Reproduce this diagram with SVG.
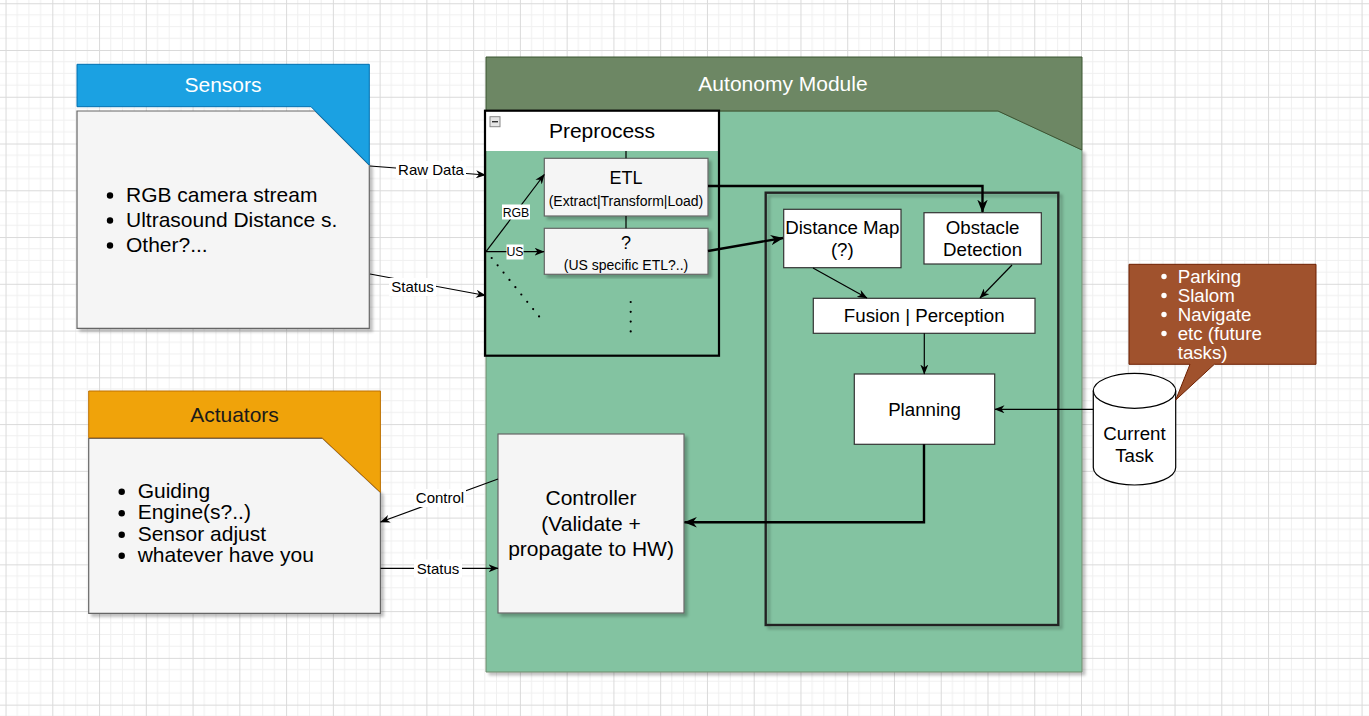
<svg xmlns="http://www.w3.org/2000/svg" width="1369" height="716" viewBox="0 0 1369 716">
<style>
text{font-family:"Liberation Sans",Arial,sans-serif;}
.c{text-anchor:middle;}
.box{fill:#ffffff;stroke:#333333;stroke-width:1.2;}
.gbox{fill:#f5f5f5;stroke:#666666;stroke-width:1.2;}
.ln{fill:none;stroke:#000;stroke-width:1.2;}
.lnt{fill:none;stroke:#000;stroke-width:2.4;}
.lbl{font-size:15px;fill:#000;}
.lbg{fill:#ffffff;}
.t19{font-size:18.7px;fill:#000;}
.t21{font-size:21px;fill:#000;}
.dot{fill:#000;}
</style>
<defs>
<pattern id="grid" x="5.54" y="3.24" width="46.76" height="46.76" patternUnits="userSpaceOnUse">
<path d="M11.69,0V46.76M23.38,0V46.76M35.07,0V46.76M0,11.69H46.76M0,23.38H46.76M0,35.07H46.76" stroke="#f0f0f0" stroke-width="1" fill="none"/>
<path d="M0.5,0V46.76M0,0.5H46.76" stroke="#dadada" stroke-width="1" fill="none"/>
</pattern>
<filter id="sh" x="-5%" y="-5%" width="115%" height="115%">
<feGaussianBlur in="SourceAlpha" stdDeviation="1.5"/>
<feOffset dx="2.5" dy="2.5" result="b"/>
<feComponentTransfer><feFuncA type="linear" slope="0.25"/></feComponentTransfer>
<feMerge><feMergeNode/><feMergeNode in="SourceGraphic"/></feMerge>
</filter>
<marker id="arr" viewBox="0 0 10 8" refX="9.5" refY="4" markerWidth="10" markerHeight="8" orient="auto" markerUnits="userSpaceOnUse">
<path d="M0,0 L10,4 L0,8 L3,4 Z" fill="#000"/>
</marker>
<marker id="arrT" viewBox="0 0 10 8" refX="9.5" refY="4" markerWidth="13" markerHeight="10.4" orient="auto" markerUnits="userSpaceOnUse">
<path d="M0,0 L10,4 L0,8 L3,4 Z" fill="#000"/>
</marker>
</defs>
<rect x="0" y="0" width="1369" height="716" fill="#ffffff"/>
<rect x="0" y="0" width="1369" height="716" fill="url(#grid)"/>

<g id="sensors">
<polygon points="77,111 315.3,111 369.3,165 369.3,328.3 77,328.3" fill="#f5f5f5" stroke="#666666" stroke-width="1.2" filter="url(#sh)"/>
<polygon points="77,64.3 369.3,64.3 369.3,165 311,106.7 77,106.7" fill="#1ba1e2" stroke="#006eaf" stroke-width="1"/>
<text x="223" y="92.3" class="c" style="font-size:21px;fill:#ffffff">Sensors</text>
<circle cx="110" cy="195.5" r="3.2" class="dot"/>
<circle cx="110" cy="220.5" r="3.2" class="dot"/>
<circle cx="110" cy="245.5" r="3.2" class="dot"/>
<text x="126" y="201.7" class="t21">RGB camera stream</text>
<text x="126" y="226.7" class="t21">Ultrasound Distance s.</text>
<text x="126" y="251.7" class="t21">Other?...</text>
</g>

<g id="actuators">
<polygon points="88.7,438.3 322.6,438.3 380.4,492.3 380.4,613.3 88.7,613.3" fill="#f5f5f5" stroke="#666666" stroke-width="1.2" filter="url(#sh)"/>
<polygon points="88.7,391 380.4,391 380.4,492.3 322,437.7 88.7,437.7" fill="#f0a30a" stroke="#bd7000" stroke-width="1"/>
<text x="234.5" y="422.3" class="c" style="font-size:21px;fill:#1a1a1a">Actuators</text>
<circle cx="121.7" cy="491.7" r="3.2" class="dot"/>
<circle cx="121.7" cy="513.3" r="3.2" class="dot"/>
<circle cx="121.7" cy="534.7" r="3.2" class="dot"/>
<circle cx="121.7" cy="555.7" r="3.2" class="dot"/>
<text x="137.7" y="497.7" class="t21">Guiding</text>
<text x="137.7" y="519.3" class="t21">Engine(s?..)</text>
<text x="137.7" y="540.7" class="t21">Sensor adjust</text>
<text x="137.7" y="561.7" class="t21">whatever have you</text>
</g>

<g id="autonomy-module">
<polygon points="486,111 998,111 1082,150 1082,672 486,672" fill="#83c3a1" stroke="#6f8a6c" stroke-width="1" filter="url(#sh)"/>
<polygon points="486,57 1082,57 1082,150 998,111 486,111" fill="#6d8764" stroke="#3a5431" stroke-width="1"/>
<text x="783" y="91" class="c" style="font-size:21px;fill:#ffffff">Autonomy Module</text>
</g>

<g id="preprocess">
<rect x="485" y="110.7" width="234" height="40.3" fill="#ffffff"/>
<rect x="485" y="110.7" width="234" height="245" fill="none" stroke="#000" stroke-width="2.2"/>
<rect x="490" y="116.7" width="10" height="10" fill="#e6e6e6" stroke="#888" stroke-width="1"/>
<line x1="492" y1="121.7" x2="498" y2="121.7" stroke="#333" stroke-width="1.4"/>
<text x="602" y="138.3" class="c t21">Preprocess</text>
</g>

<g id="etl">
<rect x="544.3" y="158.3" width="163.7" height="57.7" class="gbox" filter="url(#sh)"/>
<text x="626" y="184.3" class="c" style="font-size:18px">ETL</text>
<text x="626" y="205.9" class="c" style="font-size:14px">(Extract|Transform|Load)</text>
</g>

<g id="us-etl">
<rect x="544.3" y="228.3" width="163.7" height="46" class="gbox" filter="url(#sh)"/>
<text x="626" y="249.3" class="c" style="font-size:18px">?</text>
<text x="626" y="269.9" class="c" style="font-size:14px">(US specific ETL?..)</text>
</g>

<g id="perception">
<rect x="765.7" y="192.7" width="292.6" height="432.3" fill="none" stroke="#222222" stroke-width="2.4" filter="url(#sh)"/>
</g>

<g id="distance-map">
<rect x="783.7" y="209.3" width="117.3" height="58.4" class="box"/>
<text x="842.3" y="233.5" class="c t19">Distance Map</text>
<text x="842.3" y="256" class="c t19">(?)</text>
</g>

<g id="obstacle-detection">
<rect x="924" y="212.7" width="117.3" height="51.3" class="box"/>
<text x="982.6" y="233.5" class="c t19">Obstacle</text>
<text x="982.6" y="255.5" class="c t19">Detection</text>
</g>

<g id="fusion">
<rect x="813.3" y="298.3" width="221.7" height="35" class="box"/>
<text x="924.2" y="322.3" class="c t19">Fusion | Perception</text>
</g>

<g id="planning">
<rect x="854.3" y="374" width="140.4" height="70.3" class="box"/>
<text x="924.5" y="415.5" class="c t19">Planning</text>
</g>

<g id="controller">
<rect x="498" y="434" width="186" height="179" class="gbox" filter="url(#sh)"/>
<text x="591" y="505.3" class="c t21">Controller</text>
<text x="591" y="530.8" class="c t21">(Validate +</text>
<text x="591" y="556.3" class="c t21">propagate to HW)</text>
</g>

<g id="current-task">
<path d="M1093.3,390.8 A41.2,17.5 0 0 1 1175.7,390.8 L1175.7,467.5 A41.2,17.5 0 0 1 1093.3,467.5 Z" fill="#ffffff" stroke="#000" stroke-width="1.2"/>
<path d="M1093.3,390.8 A41.2,17.5 0 0 0 1175.7,390.8" fill="none" stroke="#000" stroke-width="1.2"/>
<text x="1134.5" y="439.5" class="c t19">Current</text>
<text x="1134.5" y="461.5" class="c t19">Task</text>
</g>

<g id="tasks-callout">
<polygon points="1129,264.3 1316,264.3 1316,364.3 1214.3,364.3 1175.7,400 1190,364.3 1129,364.3" fill="#a0522d" stroke="#6d1f00" stroke-width="1"/>
<circle cx="1164" cy="276.5" r="2.7" fill="#fff"/>
<circle cx="1164" cy="295.5" r="2.7" fill="#fff"/>
<circle cx="1164" cy="314.5" r="2.7" fill="#fff"/>
<circle cx="1164" cy="333.5" r="2.7" fill="#fff"/>
<text x="1177.7" y="282.5" style="font-size:18.7px;fill:#ffffff">Parking</text>
<text x="1177.7" y="301.5" style="font-size:18.7px;fill:#ffffff">Slalom</text>
<text x="1177.7" y="320.5" style="font-size:18.7px;fill:#ffffff">Navigate</text>
<text x="1177.7" y="339.5" style="font-size:18.7px;fill:#ffffff">etc (future</text>
<text x="1177.7" y="358.5" style="font-size:18.7px;fill:#ffffff">tasks)</text>
</g>

<g id="connectors">
<path d="M370,166 L485.5,175" class="ln" marker-end="url(#arr)"/>
<rect x="396" y="161" width="70" height="18" class="lbg"/>
<text x="431" y="175.3" class="c lbl">Raw Data</text>

<path d="M370,274 L485.5,295.5" class="ln" marker-end="url(#arr)"/>
<rect x="389" y="278" width="47" height="18" class="lbg"/>
<text x="412.5" y="292.3" class="c lbl">Status</text>

<path d="M486,251.7 L544.3,174.5" class="ln" marker-end="url(#arr)"/>
<rect x="502" y="204.5" width="28" height="15" class="lbg"/>
<text x="516" y="216.5" class="c" style="font-size:12.3px">RGB</text>

<path d="M486,251.7 L544,251.7" class="ln" marker-end="url(#arr)"/>
<rect x="506.5" y="244.5" width="17" height="15" class="lbg"/>
<text x="515" y="256.3" class="c" style="font-size:12.3px">US</text>

<path d="M491.7,258 L539.3,316.7" fill="none" stroke="#000" stroke-width="2.2" stroke-linecap="round" stroke-dasharray="0 9.4"/>
<path d="M630.7,302 L630.7,332" fill="none" stroke="#000" stroke-width="2.2" stroke-linecap="round" stroke-dasharray="0 9.8"/>

<path d="M626,151 L626,158.3 M626,216 L626,228.3" class="ln"/>

<path d="M708,186 L982.5,186 L982.5,212" class="lnt" stroke-width="2" marker-end="url(#arrT)"/>
<path d="M708,251 L783,238" class="lnt" marker-end="url(#arrT)"/>

<path d="M813,268 L867,298" class="ln" marker-end="url(#arr)"/>
<path d="M1012,265 L980,298" class="ln" marker-end="url(#arr)"/>
<path d="M924.3,333.3 L924.3,374" class="ln" marker-end="url(#arr)"/>
<path d="M1093.3,409.3 L995,409.3" class="ln" marker-end="url(#arr)"/>

<path d="M924,444.3 L924,522.3 L684.5,522.3" class="lnt" marker-end="url(#arrT)"/>

<path d="M498,479 L380.5,522" class="ln" marker-end="url(#arr)"/>
<rect x="414" y="489" width="52" height="18" class="lbg"/>
<text x="440" y="503" class="c lbl">Control</text>

<path d="M380.5,568.3 L498,568.3" class="ln" marker-end="url(#arr)"/>
<rect x="414" y="559.5" width="48" height="18" class="lbg"/>
<text x="438" y="573.6" class="c lbl">Status</text>
</g>
</svg>
